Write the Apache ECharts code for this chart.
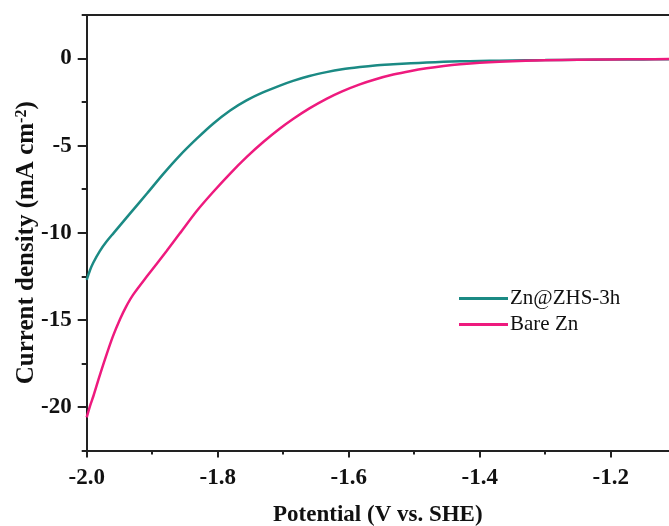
<!DOCTYPE html>
<html>
<head>
<meta charset="utf-8">
<script src="https://cdn.jsdelivr.net/npm/echarts@6/dist/echarts.min.js"></script>
<style>
html,body{margin:0;padding:0;background:#fff;}
#chart{width:669px;height:526px;}
</style>
</head>
<body>
<div id="chart"></div>
<script>
// ---- data ----
var seriesNames = ['Zn@ZHS-3h', 'Bare Zn'];
var potentialZHS = [-2.000, -1.995, -1.990, -1.980, -1.970, -1.959, -1.934, -1.908, -1.883, -1.858, -1.832, -1.807, -1.781, -1.756, -1.730, -1.705, -1.685, -1.660, -1.634, -1.610, -1.583, -1.560, -1.532, -1.505, -1.481, -1.455, -1.430, -1.400, -1.370, -1.330, -1.300, -1.250, -1.200, -1.150, -1.111];
var currentZHS   = [-12.70, -12.15, -11.72, -11.05, -10.52, -10.02, -8.90, -7.75, -6.62, -5.57, -4.60, -3.74, -2.98, -2.40, -1.93, -1.55, -1.28, -1.00, -0.78, -0.62, -0.49, -0.40, -0.33, -0.27, -0.23, -0.19, -0.16, -0.14, -0.12, -0.10, -0.09, -0.07, -0.06, -0.05, -0.04];
var potentialBare = [-2.000, -1.995, -1.990, -1.981, -1.972, -1.960, -1.949, -1.940, -1.929, -1.908, -1.878, -1.858, -1.832, -1.807, -1.781, -1.756, -1.730, -1.705, -1.685, -1.660, -1.634, -1.610, -1.583, -1.560, -1.532, -1.505, -1.481, -1.455, -1.430, -1.400, -1.370, -1.330, -1.300, -1.250, -1.200, -1.150, -1.111];
var currentBare   = [-20.60, -19.95, -19.40, -18.30, -17.25, -15.95, -14.95, -14.25, -13.55, -12.50, -11.05, -10.05, -8.75, -7.66, -6.60, -5.66, -4.78, -4.02, -3.47, -2.86, -2.31, -1.88, -1.48, -1.20, -0.92, -0.71, -0.56, -0.43, -0.33, -0.24, -0.18, -0.13, -0.10, -0.07, -0.05, -0.04, -0.03];
var xMajorTicks = [-2.0, -1.8, -1.6, -1.4, -1.2];
var xMinorTicks = [-1.9, -1.7, -1.5, -1.3];
var yMajorTicks = [-20, -15, -10, -5, 0];
var yMinorTicks = [-22.5, -17.5, -12.5, -7.5, -2.5, 2.5];
var xRange = [-2.0, -1.111];
var yRange = [-22.5, 2.5];

function pairs(xs, ys) { return xs.map(function (x, i) { return [x, ys[i]]; }); }

var FONT = "'Liberation Serif', 'Times New Roman', serif";
var AX = '#222';
var colors = ['#1b8a84', '#ee1a7e'];

var chart = echarts.init(document.getElementById('chart'));
chart.setOption({
  animation: false,
  backgroundColor: '#fff',
  grid: { left: 86.7, right: 0, top: 15, bottom: 75.5, containLabel: false, outerBoundsMode: 'none' },
  legend: {
    data: seriesNames,
    orient: 'vertical',
    left: 459, top: 288, padding: 0,
    icon: 'rect', itemWidth: 49, itemHeight: 3, itemGap: 5,
    selectedMode: false,
    textStyle: { fontFamily: FONT, fontSize: 21, color: '#111', padding: [0, 0, 0, -3] }
  },
  xAxis: [
    {
      type: 'value', position: 'bottom', min: xRange[0], max: xRange[1],
      splitLine: { show: false },
      axisLine: { onZero: false, lineStyle: { color: AX, width: 2 } },
      axisTick: { customValues: xMajorTicks, length: 7, lineStyle: { color: AX, width: 2 } },
      axisLabel: { customValues: xMajorTicks, margin: 16, fontFamily: FONT, fontWeight: 'bold', fontSize: 23, color: '#111',
        formatter: function (v) { return v.toFixed(1); } },
      name: 'Potential (V vs. SHE)', nameLocation: 'middle', nameGap: 53, nameMoveOverlap: false,
      nameTextStyle: { fontFamily: FONT, fontWeight: 'bold', fontSize: 23, color: '#111' }
    },
    {
      type: 'value', position: 'bottom', min: xRange[0], max: xRange[1],
      splitLine: { show: false }, axisLine: { show: false, onZero: false },
      axisTick: { customValues: xMinorTicks, length: 4, lineStyle: { color: AX, width: 2 } },
      axisLabel: { show: false }
    },
    {
      type: 'value', position: 'top', min: xRange[0], max: xRange[1],
      splitLine: { show: false },
      axisLine: { onZero: false, lineStyle: { color: AX, width: 2 } },
      axisTick: { show: false }, axisLabel: { show: false }
    }
  ],
  yAxis: [
    {
      type: 'value', position: 'left', min: yRange[0], max: yRange[1],
      splitLine: { show: false },
      axisLine: { onZero: false, lineStyle: { color: AX, width: 2 } },
      axisTick: { customValues: yMajorTicks, length: 9, lineStyle: { color: AX, width: 2 } },
      axisLabel: { customValues: yMajorTicks, margin: 15, fontFamily: FONT, fontWeight: 'bold', fontSize: 23, color: '#111' },
      name: 'Current density (mA cm{sup|-2})', nameLocation: 'middle', nameGap: 47, nameRotate: 90, nameMoveOverlap: false,
      nameTextStyle: { fontFamily: FONT, fontWeight: 'bold', fontSize: 25, color: '#111', padding: [0, 20, 0, 0],
        rich: { sup: { fontFamily: FONT, fontWeight: 'bold', fontSize: 16, color: '#111', verticalAlign: 'top', padding: [0, 0, 10, 0] } } }
    },
    {
      type: 'value', position: 'left', min: yRange[0], max: yRange[1],
      splitLine: { show: false }, axisLine: { show: false, onZero: false },
      axisTick: { customValues: yMinorTicks, length: 5, lineStyle: { color: AX, width: 2 } },
      axisLabel: { show: false }
    }
  ],
  series: [
    { name: seriesNames[0], type: 'line', xAxisIndex: 0, yAxisIndex: 0, showSymbol: false, symbol: 'none', smooth: 0.3,
      lineStyle: { color: colors[0], width: 2.5 }, itemStyle: { color: colors[0] },
      data: pairs(potentialZHS, currentZHS) },
    { name: seriesNames[1], type: 'line', xAxisIndex: 0, yAxisIndex: 0, showSymbol: false, symbol: 'none', smooth: 0.3,
      lineStyle: { color: colors[1], width: 2.5 }, itemStyle: { color: colors[1] },
      data: pairs(potentialBare, currentBare) }
  ]
});
</script>
</body>
</html>
